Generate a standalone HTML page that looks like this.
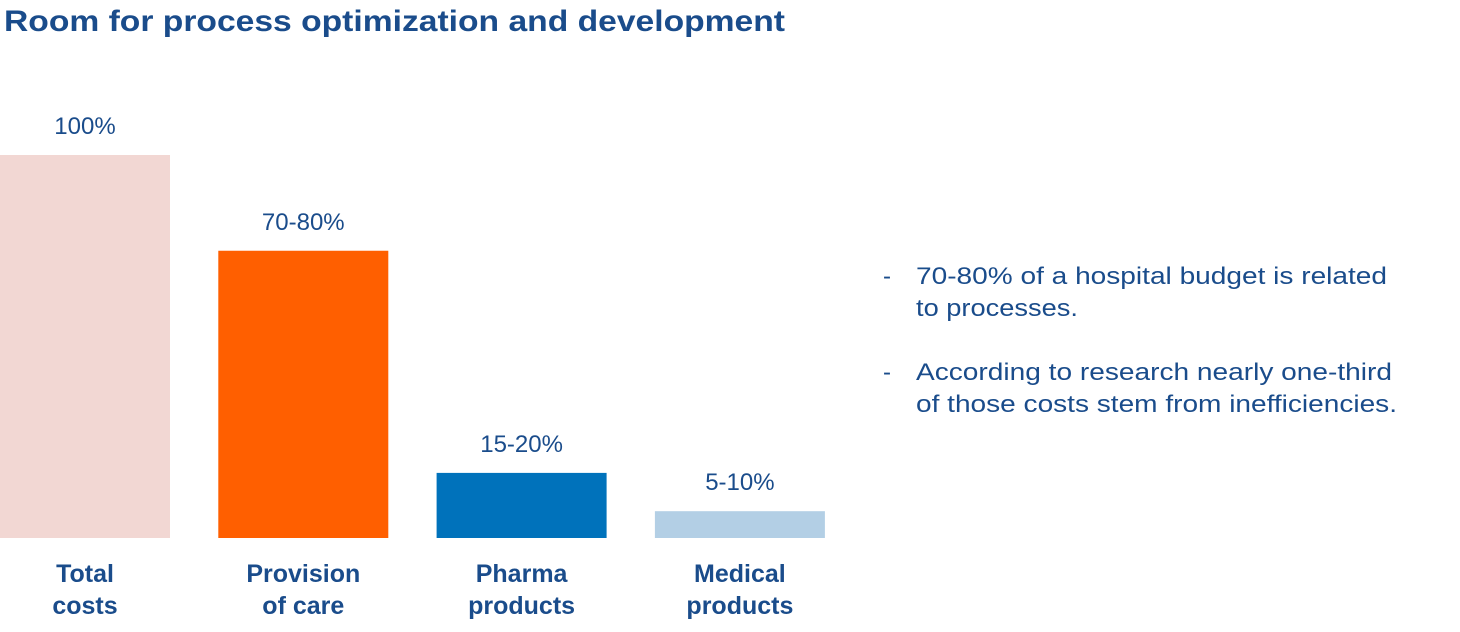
<!DOCTYPE html>
<html><head><meta charset="utf-8"><style>
html,body{margin:0;padding:0;background:#fff;width:1460px;height:632px;overflow:hidden}
svg{display:block;font-family:"Liberation Sans",sans-serif}
</style></head><body>
<svg id="chart" width="1460" height="632">
<text x="4" y="31" font-size="30" font-weight="bold" fill="#1a4c8b" textLength="781" lengthAdjust="spacingAndGlyphs">Room for process optimization and development</text>
<g id="bars"></g>
<g font-size="24" fill="#1a4c8b">
<text x="883" y="284">-</text>
<text x="916" y="284" textLength="471" lengthAdjust="spacingAndGlyphs">70-80% of a hospital budget is related</text>
<text x="916" y="316" textLength="162" lengthAdjust="spacingAndGlyphs">to processes.</text>
<text x="883" y="380">-</text>
<text x="916" y="380" textLength="476" lengthAdjust="spacingAndGlyphs">According to research nearly one-third</text>
<text x="916" y="412" textLength="481" lengthAdjust="spacingAndGlyphs">of those costs stem from inefficiencies.</text>
</g>
</svg>
<script>
const categories = [["Total","costs"],["Provision","of care"],["Pharma","products"],["Medical","products"]];
const values = [100, 75, 17, 7];
const valueLabels = ["100%","70-80%","15-20%","5-10%"];
const colors = ["#f2d7d3","#ff5f00","#0072bb","#b3cfe5"];
const NS="http://www.w3.org/2000/svg";
const g=document.getElementById('bars');
const baseY=538, scaleH=383, x0=0, step=218.3, bw=170;
function yScale(v){return baseY - v/100*scaleH;}
function xScale(i){return x0 + i*step;}
categories.forEach((c,i)=>{
  const x=xScale(i), y=yScale(values[i]);
  const r=document.createElementNS(NS,'rect');
  r.setAttribute('x',x);r.setAttribute('y',y);r.setAttribute('width',bw);r.setAttribute('height',baseY-y);r.setAttribute('fill',colors[i]);
  
  
  g.appendChild(r);
  const t=document.createElementNS(NS,'text');
  t.setAttribute('x',x+bw/2);t.setAttribute('y',y-21);t.setAttribute('text-anchor','middle');t.setAttribute('font-size','24');t.setAttribute('fill','#1a4c8b');
  t.textContent=valueLabels[i];
  
  
  g.appendChild(t);
  c.forEach((line,j)=>{
    const l=document.createElementNS(NS,'text');
    l.setAttribute('x',x+bw/2);l.setAttribute('y',582+j*32);l.setAttribute('text-anchor','middle');l.setAttribute('font-size','25');l.setAttribute('font-weight','bold');l.setAttribute('fill','#1a4c8b');
    l.textContent=line;
    
    
    g.appendChild(l);
  });
});
</script>
</body></html>
